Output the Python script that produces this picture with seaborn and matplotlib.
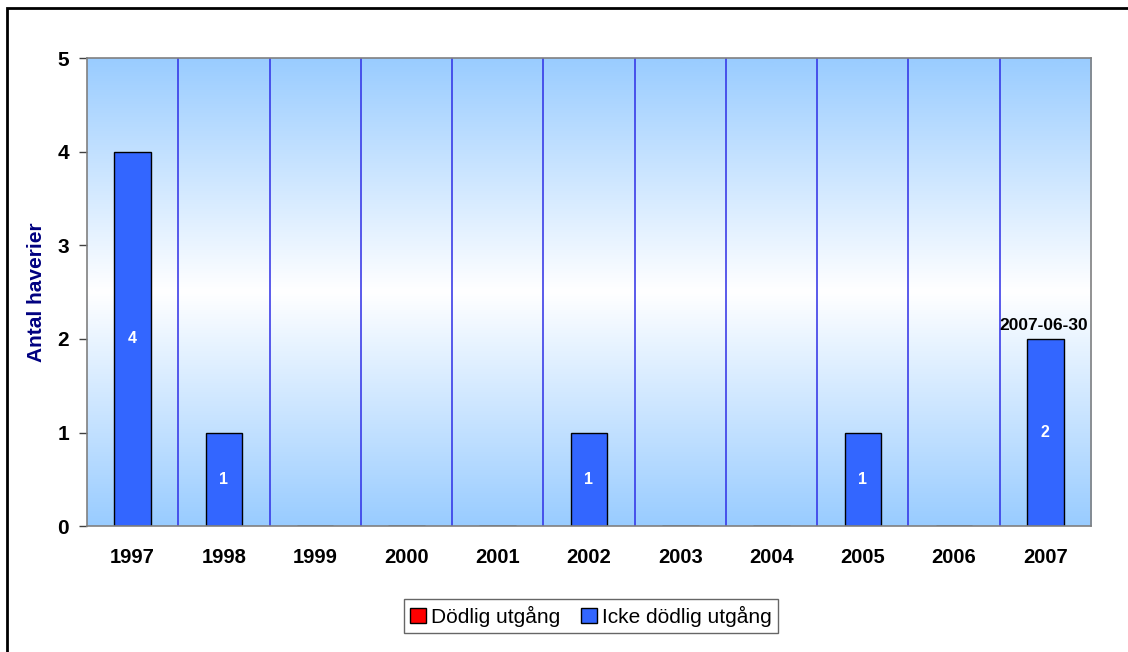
import numpy as np
import pandas as pd
import seaborn as sns
import matplotlib.pyplot as plt
from matplotlib.patches import Patch, Rectangle
from matplotlib.colors import LinearSegmentedColormap

# Data
years = ['1997', '1998', '1999', '2000', '2001', '2002', '2003', '2004', '2005', '2006', '2007']
dodlig = [0, 0, 0, 0, 0, 0, 0, 0, 0, 0, 0]
icke_dodlig = [4, 1, 0, 0, 0, 1, 0, 0, 1, 0, 2]
serier = ['Dödlig utgång', 'Icke dödlig utgång']
farger = ['#FF0000', '#3366FF']

df = pd.DataFrame({'år': years, 'Dödlig utgång': dodlig, 'Icke dödlig utgång': icke_dodlig})
df_long = df.melt(id_vars='år', var_name='serie', value_name='antal')

sns.set_style('white')
plt.rcParams['font.family'] = ['Liberation Sans', 'DejaVu Sans']
plt.rcParams['text.color'] = 'black'

fig = plt.figure(figsize=(11.28, 6.52), dpi=100)
ax = fig.add_axes([0.0771, 0.193, 0.8901, 0.718])

# Bakgrund med gradient (blå - vit - blå)
cmap = LinearSegmentedColormap.from_list('bg', [(0, '#99CCFF'), (0.5, '#FFFFFF'), (1, '#99CCFF')])
grad = np.linspace(0, 1, 256).reshape(-1, 1)
ax.imshow(grad, cmap=cmap, aspect='auto', extent=(-0.5, 10.5, 0, 5), origin='lower', zorder=0)

sns.barplot(data=df_long, x='år', y='antal', hue='serie', hue_order=serier,
            palette=farger, saturation=1, dodge=False, width=0.4, edgecolor='black',
            linewidth=1, legend=False, ax=ax, zorder=3)

# Vertikala linjer mellan kategorierna
for x in np.arange(0.5, 10.5, 1):
    ax.axvline(x, color='#2E2EE6', linewidth=1.1, zorder=1)

ax.set_xlim(-0.5, 10.5)
ax.set_ylim(0, 5)
ax.set_yticks(range(6))
ax.set_yticklabels([str(v) for v in range(6)], fontsize=15, fontweight='bold')
ax.set_xticks(range(len(years)))
ax.set_xticklabels(years, fontsize=14.5, fontweight='bold')
ax.set_xticks(np.arange(-0.5, 11, 1), minor=True)
ax.tick_params(axis='x', which='major', length=0, pad=16, labelcolor='black')
ax.tick_params(axis='x', which='minor', length=6, color='#808080', width=1)
ax.tick_params(axis='y', which='major', length=6, color='#404040', width=1, pad=7,
               left=True, labelcolor='black')
ax.set_xlabel('')
ax.set_ylabel('Antal haverier', fontsize=15, fontweight='bold', color='#000080', labelpad=8)

for side in ['top', 'right', 'left', 'bottom']:
    ax.spines[side].set_color('#808080')
    ax.spines[side].set_linewidth(1.2)
    ax.spines[side].set_zorder(4)

# Värdeetiketter i staplarna
for i, v in enumerate(icke_dodlig):
    if v > 0:
        ax.text(i, v / 2, str(v), ha='center', va='center', color='white',
                fontsize=11.5, fontweight='bold', zorder=5)

ax.text(9.98, 2.06, '2007-06-30', ha='center', va='bottom', fontsize=12.5,
        fontweight='bold', color='black', zorder=5)

# Förklaring
handles = [Patch(facecolor=c, edgecolor='black', label=s) for s, c in zip(serier, farger)]
leg = fig.legend(handles=handles, loc='center', bbox_to_anchor=(0.524, 0.055), ncol=2,
                 fontsize=15, frameon=True, fancybox=False, handlelength=0.75,
                 handleheight=0.75, handletextpad=0.25, columnspacing=1.0,
                 borderpad=0.3, edgecolor='#404040')
leg.get_frame().set_linewidth(1)
for t in leg.get_texts():
    t.set_color('black')

# Ram runt diagrammet (endast överkant och vänsterkant syns)
fig.patches.append(Rectangle((0.0065, -0.1), 1.2, 1.087, transform=fig.transFigure,
                             fill=False, edgecolor='black', linewidth=2))

plt.savefig('out.png', dpi=100)
